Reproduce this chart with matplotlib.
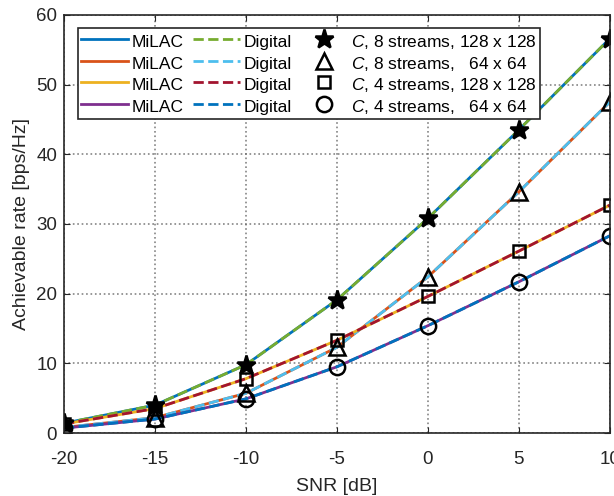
import matplotlib.pyplot as plt
import numpy as np

plt.rcParams['font.family'] = ['Liberation Sans', 'DejaVu Sans']
plt.rcParams['mathtext.fontset'] = 'custom'
plt.rcParams['mathtext.it'] = 'Liberation Sans:italic'
plt.rcParams['mathtext.rm'] = 'Liberation Sans'
plt.rcParams['axes.unicode_minus'] = False

snr = [-20, -15, -10, -5, 0, 5, 10]

# achievable rate, one list per configuration
rate_8s_128 = [1.4, 4.0, 9.8, 19.1, 30.8, 43.5, 56.6]
rate_8s_64 = [0.8, 2.2, 5.7, 12.3, 22.4, 34.6, 47.5]
rate_4s_128 = [1.3, 3.5, 7.8, 13.3, 19.6, 26.1, 32.7]
rate_4s_64 = [0.7, 2.0, 4.9, 9.5, 15.4, 21.7, 28.3]

series = [rate_8s_128, rate_8s_64, rate_4s_128, rate_4s_64]
milac_colors = ['#0072BD', '#D95319', '#EDB120', '#7E2F8E']
digital_colors = ['#77AC30', '#4DBEEE', '#A2142F', '#0072BD']
markers = ['*', '^', 's', 'o']
msizes = [14, 12, 8, 11]
cap_labels = ['$C$, 8 streams, 128 x 128',
              '$C$, 8 streams,   64 x 64',
              '$C$, 4 streams, 128 x 128',
              '$C$, 4 streams,   64 x 64']

fig = plt.figure(figsize=(6.14, 4.96), dpi=100)
ax = fig.add_axes([0.1042, 0.127, 0.889, 0.843])

h_milac, h_dig, h_cap = [], [], []
for i, vals in enumerate(series):
    l1, = ax.plot(snr, vals, '-', color=milac_colors[i], lw=2, label='MiLAC')
    l2, = ax.plot(snr, vals, '--', color=digital_colors[i], lw=2, label='Digital')
    h_milac.append(l1)
    h_dig.append(l2)
for i, vals in enumerate(series):
    l3, = ax.plot(snr, vals, linestyle='none', marker=markers[i], ms=msizes[i],
                  mfc='none', mec='black', mew=1.8, label=cap_labels[i])
    if markers[i] == '*':
        l3.set_markerfacecolor('black')
    h_cap.append(l3)

ax.set_xlim(-20, 10)
ax.set_ylim(0, 60)
ax.set_xticks(np.arange(-20, 11, 5))
ax.set_yticks(np.arange(0, 61, 10))
ax.grid(True, linestyle=':', color='#666666', lw=1.2, alpha=0.8)
ax.tick_params(direction='in', top=True, right=True, labelsize=13.5, length=4,
               colors='#262626')
ax.tick_params(axis='x', pad=13)
ax.tick_params(axis='y', pad=5)
for s in ax.spines.values():
    s.set_linewidth(1.2)
    s.set_color('#262626')
ax.set_xlabel('SNR [dB]', fontsize=14, color='#262626', labelpad=7)
ax.set_ylabel('Achievable rate [bps/Hz]', fontsize=14, color='#262626', labelpad=4)

# tall handle boxes keep the three legend columns on the same rows
handles = h_milac + h_dig + h_cap
leg = ax.legend(handles, [h.get_label() for h in handles],
                ncol=3, loc='upper left', bbox_to_anchor=(0.025, 0.969),
                fontsize=12.5, fancybox=False, edgecolor='#262626', framealpha=1,
                handlelength=2.7, handleheight=1.4, handletextpad=0.2,
                columnspacing=0.55, labelspacing=0.09, borderpad=0.19,
                borderaxespad=0)
leg.get_frame().set_linewidth(1.2)

fig.savefig('out.png', dpi=100)
